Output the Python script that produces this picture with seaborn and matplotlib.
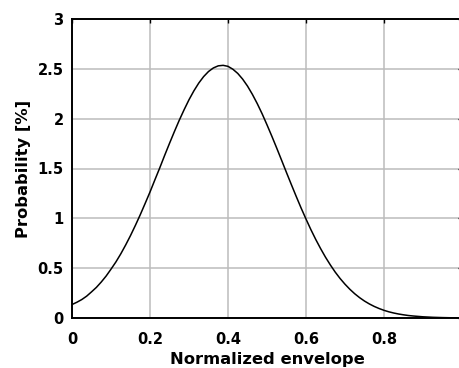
import matplotlib
matplotlib.use("Agg")
import matplotlib.pyplot as plt
import seaborn as sns
import pandas as pd

envelope = [0.0000, 0.0125, 0.0250, 0.0375, 0.0500, 0.0625, 0.0750, 0.0875,
            0.1000, 0.1125, 0.1250, 0.1375, 0.1500, 0.1625, 0.1750, 0.1875,
            0.2000, 0.2125, 0.2250, 0.2375, 0.2500, 0.2625, 0.2750, 0.2875,
            0.3000, 0.3125, 0.3250, 0.3375, 0.3500, 0.3625, 0.3750, 0.3875,
            0.4000, 0.4125, 0.4250, 0.4375, 0.4500, 0.4625, 0.4750, 0.4875,
            0.5000, 0.5125, 0.5250, 0.5375, 0.5500, 0.5625, 0.5750, 0.5875,
            0.6000, 0.6125, 0.6250, 0.6375, 0.6500, 0.6625, 0.6750, 0.6875,
            0.7000, 0.7125, 0.7250, 0.7375, 0.7500, 0.7625, 0.7750, 0.7875,
            0.8000, 0.8125, 0.8250, 0.8375, 0.8500, 0.8625, 0.8750, 0.8875,
            0.9000, 0.9125, 0.9250, 0.9375, 0.9500, 0.9625, 0.9750, 0.9875,
            1.0000]
probability = [0.135, 0.158, 0.185, 0.219, 0.262, 0.307, 0.361, 0.421,
               0.490, 0.562, 0.643, 0.732, 0.827, 0.929, 1.036, 1.149,
               1.264, 1.386, 1.506, 1.631, 1.752, 1.870, 1.984, 2.090,
               2.190, 2.279, 2.357, 2.422, 2.473, 2.509, 2.530, 2.535,
               2.525, 2.496, 2.454, 2.397, 2.327, 2.244, 2.151, 2.049,
               1.938, 1.823, 1.704, 1.582, 1.459, 1.338, 1.219, 1.103,
               0.993, 0.887, 0.788, 0.696, 0.610, 0.532, 0.460, 0.396,
               0.339, 0.288, 0.243, 0.204, 0.170, 0.141, 0.116, 0.095,
               0.077, 0.062, 0.050, 0.040, 0.032, 0.025, 0.020, 0.016,
               0.012, 0.0095, 0.007, 0.0055, 0.004, 0.003, 0.002, 0.0015,
               0.001]
x_ticks = [0, 0.2, 0.4, 0.6, 0.8, 1]
x_tick_labels = ["0", "0.2", "0.4", "0.6", "0.8", "1"]
y_ticks = [0, 0.5, 1, 1.5, 2, 2.5, 3]
y_tick_labels = ["0", "0.5", "1", "1.5", "2", "2.5", "3"]

sns.set_style("whitegrid")
plt.rcParams["font.family"] = ["DejaVu Sans"]
plt.rcParams["font.weight"] = "bold"

df = pd.DataFrame({"envelope": envelope, "probability": probability})

fig = plt.figure(figsize=(4.59, 3.68), dpi=100)
ax = fig.add_axes([72 / 459, 50 / 368, 390 / 459, 299 / 368])

sns.lineplot(data=df, x="envelope", y="probability", ax=ax, color="black", linewidth=1.1)

ax.set_xlim(0, 1)
ax.set_ylim(0, 3)
ax.set_xticks(x_ticks)
ax.set_xticklabels(x_tick_labels, fontsize=10.5, fontweight="bold", color="black")
ax.set_yticks(y_ticks)
ax.set_yticklabels(y_tick_labels, fontsize=10.5, fontweight="bold", color="black")
ax.grid(True, color="#bcbcbc", linewidth=1.1)
ax.tick_params(direction="in", length=3, width=1, top=True, right=True,
               colors="black")
ax.tick_params(axis="x", pad=10)
ax.tick_params(axis="y", pad=6)
for s in ax.spines.values():
    s.set_color("black")
    s.set_linewidth(1.4)

ax.set_xlabel("Normalized envelope", fontsize=11.8, fontweight="bold",
              labelpad=4, color="black")
ax.set_ylabel("Probability [%]", fontsize=11.8, fontweight="bold",
              labelpad=5, color="black")

fig.savefig("out.png", dpi=100)
